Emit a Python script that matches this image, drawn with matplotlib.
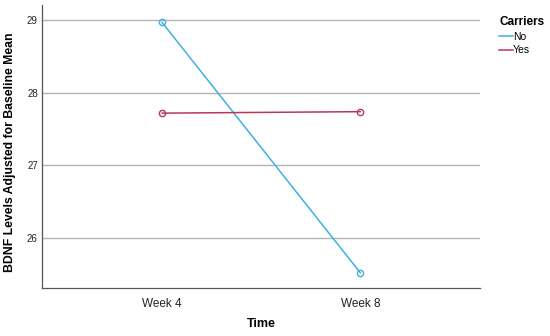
import matplotlib
matplotlib.use("Agg")
import matplotlib.pyplot as plt
from matplotlib.lines import Line2D

# data
times = ["Week 4", "Week 8"]
no_carriers = [28.97, 25.52]
yes_carriers = [27.72, 27.74]
y_ticks = [26, 27, 28, 29]

c_no = "#3fb0e2"
c_yes = "#b8385a"
font = "Liberation Sans"

fig = plt.figure(figsize=(5.5, 3.36), dpi=100)
ax = fig.add_axes([0.0764, 0.143, 0.797, 0.842])

x = list(range(len(times)))
ax.plot(x, no_carriers, color=c_no, lw=1.1, marker="o", ms=4.5,
        mfc="none", mec=c_no, mew=1.0, zorder=3)
ax.plot(x, yes_carriers, color=c_yes, lw=1.1, marker="o", ms=4.5,
        mfc="none", mec=c_yes, mew=1.0, zorder=3)

ax.set_xlim(-0.606, 1.606)
ax.set_ylim(25.31, 29.21)
ax.set_xticks(x)
ax.set_xticklabels(times, fontsize=8.5, family=font)
ax.set_yticks(y_ticks)
ax.set_yticklabels([str(t) for t in y_ticks], fontsize=7, family=font)
ax.tick_params(axis="both", length=0, colors="#222222")
ax.tick_params(axis="x", pad=7)
ax.tick_params(axis="y", pad=3)

ax.yaxis.grid(True, color="#b4b4b4", lw=1.0)
ax.set_axisbelow(True)
for s in ("top", "right"):
    ax.spines[s].set_visible(False)
for s in ("left", "bottom"):
    ax.spines[s].set_color("#555555")
    ax.spines[s].set_linewidth(0.9)

ax.set_xlabel("Time", fontsize=9, fontweight="bold", family=font)
ax.xaxis.set_label_coords(0.5, -0.105)
ax.set_ylabel("BDNF Levels Adjusted for Baseline Mean", fontsize=8.8,
              fontweight="bold", family=font)
ax.yaxis.set_label_coords(-0.06, 0.48)

handles = [Line2D([], [], color=c_no, lw=1.1), Line2D([], [], color=c_yes, lw=1.1)]
leg = fig.legend(handles, ["No", "Yes"], title="Carriers", loc="upper left",
                 bbox_to_anchor=(0.898, 0.968), frameon=False, borderpad=0,
                 handlelength=1.3, handletextpad=0.05, labelspacing=0.35,
                 title_fontproperties={"weight": "bold", "size": 8.5,
                                       "family": font},
                 prop={"family": font, "size": 7.5})
leg._legend_box.align = "left"

fig.savefig("out.png", dpi=100)
